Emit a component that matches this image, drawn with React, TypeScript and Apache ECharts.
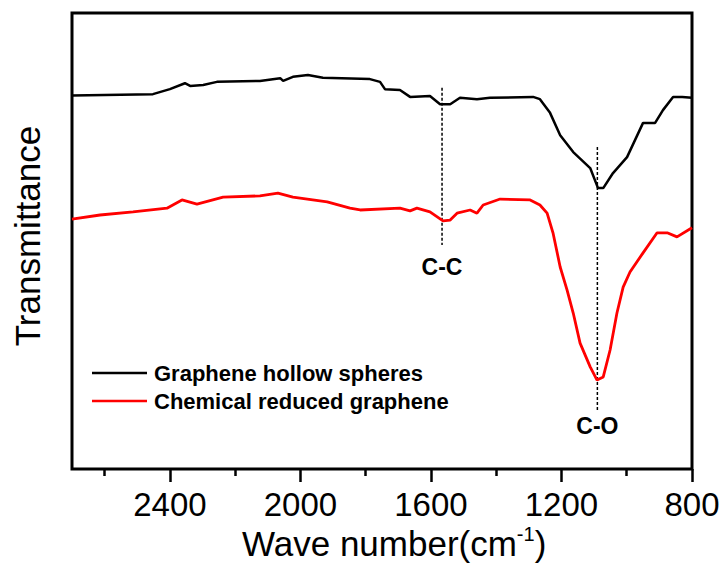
import React, { useEffect, useRef } from "react";
import * as echarts from "echarts";

// Wave number (cm^-1), transmittance (a.u.)
const hollowWave = [2700, 2452, 2400, 2354, 2338, 2298, 2256, 2124, 2062, 2053, 2023, 1977, 1931, 1787, 1756, 1741, 1695, 1664, 1603, 1572, 1541, 1511, 1459, 1419, 1287, 1266, 1235, 1204, 1164, 1112, 1088, 1072, 1042, 999, 950, 913, 889, 858, 830, 800];
const hollowT = [81.9, 82.2, 83.3, 84.6, 84.0, 84.2, 84.9, 85.1, 85.7, 85.1, 86.0, 86.4, 85.8, 85.5, 84.9, 83.3, 83.1, 81.6, 81.8, 80.0, 80.0, 81.4, 81.1, 81.4, 81.6, 81.1, 78.1, 73.2, 69.5, 66.0, 61.6, 61.6, 64.9, 68.4, 75.9, 75.9, 78.7, 81.6, 81.6, 81.4];

const reducedWave = [2700, 2614, 2513, 2409, 2363, 2317, 2237, 2124, 2069, 2023, 1918, 1848, 1817, 1695, 1664, 1643, 1603, 1563, 1541, 1520, 1480, 1459, 1440, 1388, 1296, 1266, 1244, 1226, 1204, 1183, 1164, 1143, 1112, 1091, 1072, 1051, 1030, 1011, 990, 950, 907, 876, 846, 800];
const reducedT = [54.8, 55.7, 56.4, 57.2, 59.0, 58.1, 59.6, 59.9, 60.5, 59.6, 58.6, 57.2, 56.8, 57.2, 56.6, 57.2, 56.4, 54.4, 54.6, 56.1, 56.8, 56.1, 57.9, 59.2, 59.0, 57.9, 56.1, 51.8, 44.3, 39.3, 34.2, 27.6, 22.4, 19.5, 20.2, 26.1, 34.2, 39.9, 43.2, 47.4, 51.8, 51.8, 50.9, 52.9];

const seriesNames = ["Graphene hollow spheres", "Chemical reduced graphene"];
const majorTicks = [2400, 2000, 1600, 1200, 800];
const minorTicks = [2600, 2200, 1800, 1400, 1000];

// Peak markers: wave number, line top, line bottom, label position
const peakNames = ["C-C", "C-O"];
const peakWave = [1566, 1090];
const peakTop = [83.6, 70.6];
const peakBottom = [49.1, 12.9];
const peakLabelY = [44.3, 9.4];

const FONT = "'Liberation Sans', Arial, sans-serif";

export default function App() {
  const ref = useRef<HTMLDivElement>(null);
  useEffect(() => {
    if (!ref.current) return;
    const chart = echarts.init(ref.current, undefined, { renderer: "svg" });
    const zip = (a: number[], b: number[]) => a.map((v, i) => [v, b[i]]);
    const peakSeries: any[] = [];
    peakNames.forEach((n, i) => {
      peakSeries.push({
        name: n + " line",
        type: "line",
        data: [
          [peakWave[i], peakTop[i]],
          [peakWave[i], peakBottom[i]],
        ],
        symbol: "none",
        lineStyle: { color: "#000", width: 1.5, type: [3, 2] },
        silent: true,
        z: 1,
      });
      peakSeries.push({
        name: n,
        type: "scatter",
        data: [[peakWave[i], peakLabelY[i]]],
        symbolSize: 0,
        silent: true,
        itemStyle: { opacity: 1, color: "#000" },
        label: {
          show: true,
          position: "inside",
          formatter: n,
          fontFamily: FONT,
          fontWeight: "bold",
          fontSize: 23,
          color: "#000",
          opacity: 1,
          textBorderWidth: 0,
        },
      });
    });
    chart.setOption({
      animation: false,
      backgroundColor: "#fff",
      grid: {
        left: 72,
        right: 36,
        top: 13,
        bottom: 100,
        show: true,
        borderColor: "#000",
        borderWidth: 3,
        backgroundColor: "transparent",
      },
      legend: {
        data: seriesNames,
        orient: "vertical",
        left: 92,
        top: 361,
        padding: 0,
        icon: "rect",
        itemWidth: 55,
        itemHeight: 2.5,
        itemGap: 4,
        textStyle: {
          fontFamily: FONT,
          fontWeight: "bold",
          fontSize: 22,
          color: "#000",
          lineHeight: 24,
          padding: [0, 0, 0, 2],
        },
      },
      xAxis: [
        {
          type: "value",
          min: 800,
          max: 2700,
          inverse: true,
          axisLine: { show: false },
          splitLine: { show: false },
          axisTick: {
            show: true,
            inside: false,
            length: 13,
            customValues: majorTicks,
            lineStyle: { color: "#000", width: 2.5 },
          },
          axisLabel: {
            customValues: majorTicks,
            formatter: (v: number) => String(v),
            fontFamily: FONT,
            fontSize: 33,
            lineHeight: 33,
            color: "#000",
            margin: 19,
          },
        },
        {
          type: "value",
          min: 800,
          max: 2700,
          inverse: true,
          position: "bottom",
          axisLine: { show: false },
          splitLine: { show: false },
          axisLabel: { show: false },
          axisTick: {
            show: true,
            inside: false,
            length: 7,
            customValues: minorTicks,
            lineStyle: { color: "#000", width: 2.5 },
          },
        },
      ],
      yAxis: {
        type: "value",
        min: 0,
        max: 100,
        axisLine: { show: false },
        axisTick: { show: false },
        axisLabel: { show: false },
        splitLine: { show: false },
      },
      graphic: [
        {
          type: "text",
          left: 242,
          top: 524,
          style: {
            text: "{a|Wave number(cm}{s|-1}{a|)}",
            rich: {
              a: { fontFamily: FONT, fontSize: 35, lineHeight: 37, fill: "#000", verticalAlign: "bottom" },
              s: { fontFamily: FONT, fontSize: 20, fill: "#000", verticalAlign: "top" },
            },
          },
        },
        {
          type: "text",
          x: 27,
          y: 236,
          rotation: Math.PI / 2,
          style: {
            text: "Transmittance",
            fontFamily: FONT,
            fontSize: 35,
            fill: "#000",
            align: "center",
            verticalAlign: "middle",
          },
        },
      ],
      series: [
        {
          name: seriesNames[0],
          type: "line",
          data: zip(hollowWave, hollowT),
          symbol: "none",
          lineStyle: { color: "#000", width: 2.5 },
          itemStyle: { color: "#000" },
          z: 3,
        },
        {
          name: seriesNames[1],
          type: "line",
          data: zip(reducedWave, reducedT),
          symbol: "none",
          lineStyle: { color: "#ff0000", width: 2.8 },
          itemStyle: { color: "#ff0000" },
          z: 3,
        },
        ...peakSeries,
      ],
    });
    return () => chart.dispose();
  }, []);
  return <div ref={ref} style={{ width: 728, height: 569, position: "absolute", left: 0, top: 0 }} />;
}
